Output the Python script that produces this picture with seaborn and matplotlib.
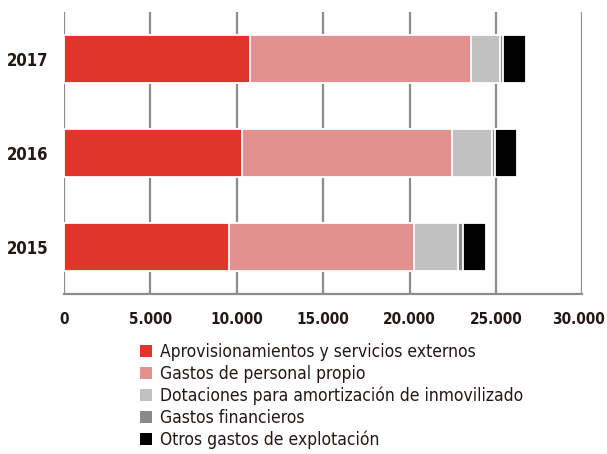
import matplotlib
matplotlib.use("Agg")
import matplotlib.pyplot as plt
import matplotlib.transforms as mtransforms
from matplotlib.patches import Patch
from matplotlib.ticker import FuncFormatter
import seaborn as sns
import pandas as pd

years = ["2017", "2016", "2015"]
categories = [
    "Aprovisionamientos y servicios externos",
    "Gastos de personal propio",
    "Dotaciones para amortización de inmovilizado",
    "Gastos financieros",
    "Otros gastos de explotación",
]
aprovisionamientos = [10760, 10300, 9550]
personal = [12790, 12180, 10680]
dotaciones = [1680, 2290, 2580]
financieros = [200, 200, 290]
otros = [1300, 1240, 1330]
colors = ["#E0352A", "#E39190", "#C1C1C1", "#8A8A8A", "#000000"]

sns.set_style("white")
plt.rcParams["font.family"] = ["DejaVu Sans"]
plt.rcParams["font.stretch"] = "condensed"

df = pd.DataFrame({"year": years})
series = [aprovisionamientos, personal, dotaciones, financieros, otros]
cum = [0, 0, 0]
cums = []
for s in series:
    cum = [a + b for a, b in zip(cum, s)]
    cums.append(cum)

fig = plt.figure(figsize=(6.07, 4.54), dpi=100)
ax = fig.add_axes([64 / 607, 1 - 294 / 454, (582.4 - 64) / 607, (294 - 12) / 454])

# stacked bars: draw cumulative totals from largest to smallest
for c, col in reversed(list(zip(cums, colors))):
    df["val"] = c
    sns.barplot(data=df, x="val", y="year", orient="h", color=col, width=0.51,
                edgecolor="white", linewidth=1.3, saturation=1, ax=ax)

ax.set_xlim(0, 30000)
ax.set_ylim(2.5, -0.5)
ax.set_xticks(range(0, 30001, 5000))
ax.xaxis.set_major_formatter(FuncFormatter(lambda v, p: f"{int(v):,}".replace(",", ".")))
ax.set_xlabel("")
ax.set_ylabel("")
ax.set_axisbelow(True)
ax.grid(axis="x", color="#8C8C8C", linewidth=1.6)
ax.grid(axis="y", visible=False)
for side in ["top", "right", "left"]:
    ax.spines[side].set_visible(False)
ax.spines["bottom"].set_color("#8C8C8C")
ax.spines["bottom"].set_linewidth(1.6)
ax.tick_params(axis="x", length=4, width=1.6, color="#8C8C8C", pad=9,
               labelsize=11, labelcolor="#231815")
ax.tick_params(axis="y", length=0, pad=11, labelsize=12, labelcolor="#231815")
for lbl in ax.get_xticklabels() + ax.get_yticklabels():
    lbl.set_fontweight("bold")
# keep the last label inside the figure
last = ax.get_xticklabels()[-1]
last.set_transform(last.get_transform() + mtransforms.ScaledTranslation(-4 / 100, 0, fig.dpi_scale_trans))

handles = [Patch(facecolor=col, edgecolor="none") for col in colors]
fig.legend(handles, categories, loc="upper left", bbox_to_anchor=(133 / 607, 1 - 336 / 454),
           frameon=False, fontsize=12.5, handlelength=0.68, handleheight=0.68,
           handletextpad=0.5, labelspacing=0.22, borderaxespad=0, labelcolor="#231815")

fig.savefig("out.png", dpi=100)
